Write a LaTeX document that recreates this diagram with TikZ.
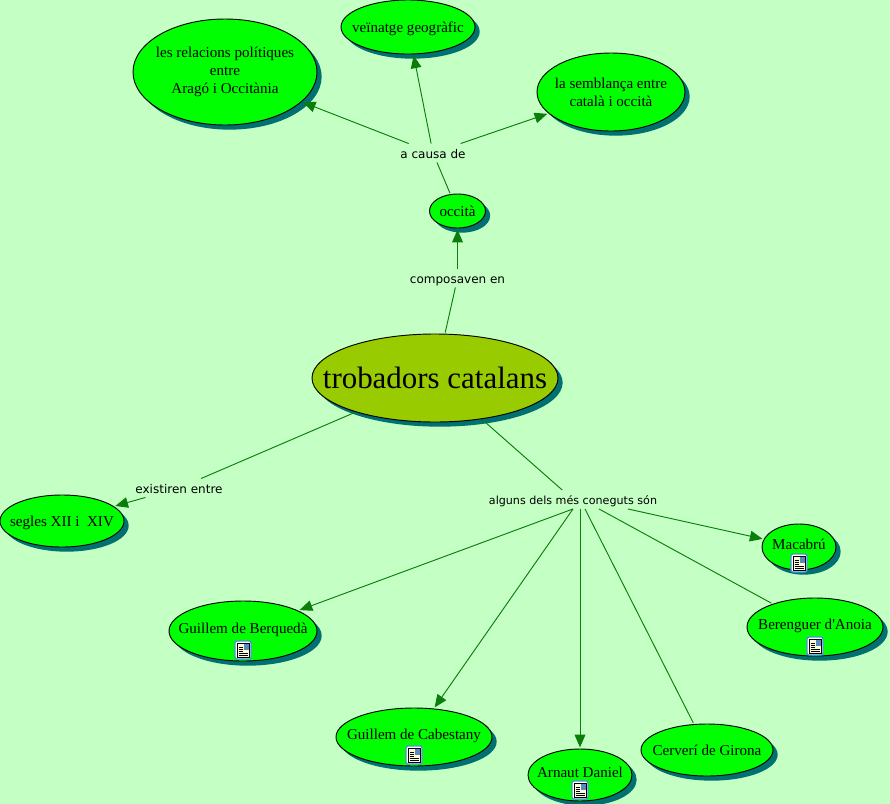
\documentclass[tikz,border=0pt]{standalone}
\usepackage{fontspec}
\setmainfont{Liberation Serif}
\newfontfamily\linkfont{DejaVu Sans}
\usetikzlibrary{calc,arrows.meta,shapes.geometric,shadows}
\definecolor{pagebg}{HTML}{C4FFC4}
\definecolor{linkgreen}{HTML}{0A7D0A}
\definecolor{shadowteal}{HTML}{007070}
\definecolor{framblue}{HTML}{4A8FD8}
\definecolor{trobfill}{HTML}{99CC00}
\tikzset{
	concept/.style 2 args={ellipse, draw=black, fill=green, line width=0.7pt,
		inner sep=-25pt, outer sep=1.2pt, align=center, font=\fontsize{11.3}{13.5}\selectfont,
		minimum width=#1*0.75pt, minimum height=#2*0.75pt,
		drop shadow={shadow xshift=3.5pt, shadow yshift=-3.5pt, fill=shadowteal, opacity=1}},
	oneline/.style={text height=9.5pt, text depth=2pt},
	withdoc/.style={text height=10.5pt, text depth=7pt},
	linkword/.style={font=\linkfont\fontsize{9}{10}\selectfont, inner xsep=2pt, inner ysep=2pt, outer sep=0pt,
		text height=9pt, text depth=1.2pt},
	link/.style={draw=linkgreen, line width=0.7pt},
	linkto/.style={link, -{Triangle[length=9.5pt,width=8pt]}},
	pics/docicon/.style={code={
		\draw[framblue, fill=white, rounded corners=1.5pt, line width=0.9pt] (-8,-9) rectangle (8,9);
		\draw[black, fill=yellow!15, line width=0.5pt] (-6,-7) rectangle (6,7);
		\foreach \j in {-3,-1,1,3} { \draw[black, line width=0.4pt] (-4.5,\j) -- (0,\j); }
		\foreach \j in {3,5} { \draw[black, line width=0.4pt] (-4.5,\j) -- (4.5,\j); }
		\fill[framblue!70!gray] (0.5,-6) rectangle (5.5,-0.5);
	}}
}

\begin{document}
\begin{tikzpicture}[x=0.75pt,y=-0.75pt]

% page %{{{2

	\useasboundingbox (0,0) rectangle (890,804);
	\fill[pagebg] (0,0) rectangle (890,804);

% concepts %{{{2

	\node[concept={246}{88}, fill=trobfill, font=\fontsize{23.2}{26}\selectfont] (trobadors) at (435,378) {trobadors catalans};
	\node[concept={56}{34}, oneline] (occita) at (457.5,211) {occità};
	\node[concept={134}{54}, oneline] (veinatge) at (408,27) {veïnatge geogràfic};
	\node[concept={184}{106}] (relacions) at (225,72) {les relacions polítiques\\entre\\Aragó i Occitània};
	\node[concept={148}{78}] (semblanca) at (611,92) {la semblança entre\\català i occità};
	\node[concept={124}{52}, oneline] (segles) at (62,521) {segles XII i\ \ XIV};
	\node[concept={148}{60}, withdoc] (berqueda) at (243,631) {Guillem de Berquedà};
	\node[concept={156}{58}, withdoc] (cabestany) at (414,737) {Guillem de Cabestany};
	\node[concept={104}{52}, withdoc] (arnaut) at (580,775) {Arnaut Daniel};
	\node[concept={132}{52}, oneline] (cerveri) at (707,750) {Cerverí de Girona};
	\node[concept={136}{58}, withdoc] (berenguer) at (815,627) {Berenguer d\textquotesingle Anoia};
	\node[concept={74}{46}, withdoc] (macabru) at (799,547) {Macabrú};

% link words %{{{2

	\node[linkword] (composaven) at (457.5,278) {composaven en};
	\node[linkword] (causa) at (433,153) {a causa de};
	\node[linkword] (existiren) at (179,488) {existiren entre};
	\node[linkword, font=\linkfont\fontsize{8.35}{10}\selectfont] (alguns) at (573,499.5) {alguns dels més coneguts són};

% connectors %{{{2

	\draw[link] (trobadors) -- (composaven);
	\draw[linkto] (composaven) -- (occita);
	\draw[link] (occita) -- (causa);
	\foreach \n in {relacions,veinatge,semblanca} { \draw[linkto] (causa) -- (\n); }
	\draw[link] (trobadors) -- (existiren);
	\draw[linkto] (existiren) -- (segles);
	\draw[link] (trobadors) -- (alguns);
	\foreach \n/\d in {berqueda/0,cabestany/0,arnaut/7,macabru/55} {
		\draw[linkto] ($(alguns.south)+(\d,0)$) -- (\n);
	}
	\foreach \n/\d in {cerveri/12,berenguer/26} {
		\draw[link] ($(alguns.south)+(\d,0)$) -- (\n);
	}

% document icons %{{{2

	\foreach \n/\d in {berqueda/19,cabestany/18,arnaut/15,berenguer/19,macabru/16} {
		\pic at ($(\n)+(0,\d)$) {docicon};
	}

% closing %{{{2

\end{tikzpicture}
\end{document}
